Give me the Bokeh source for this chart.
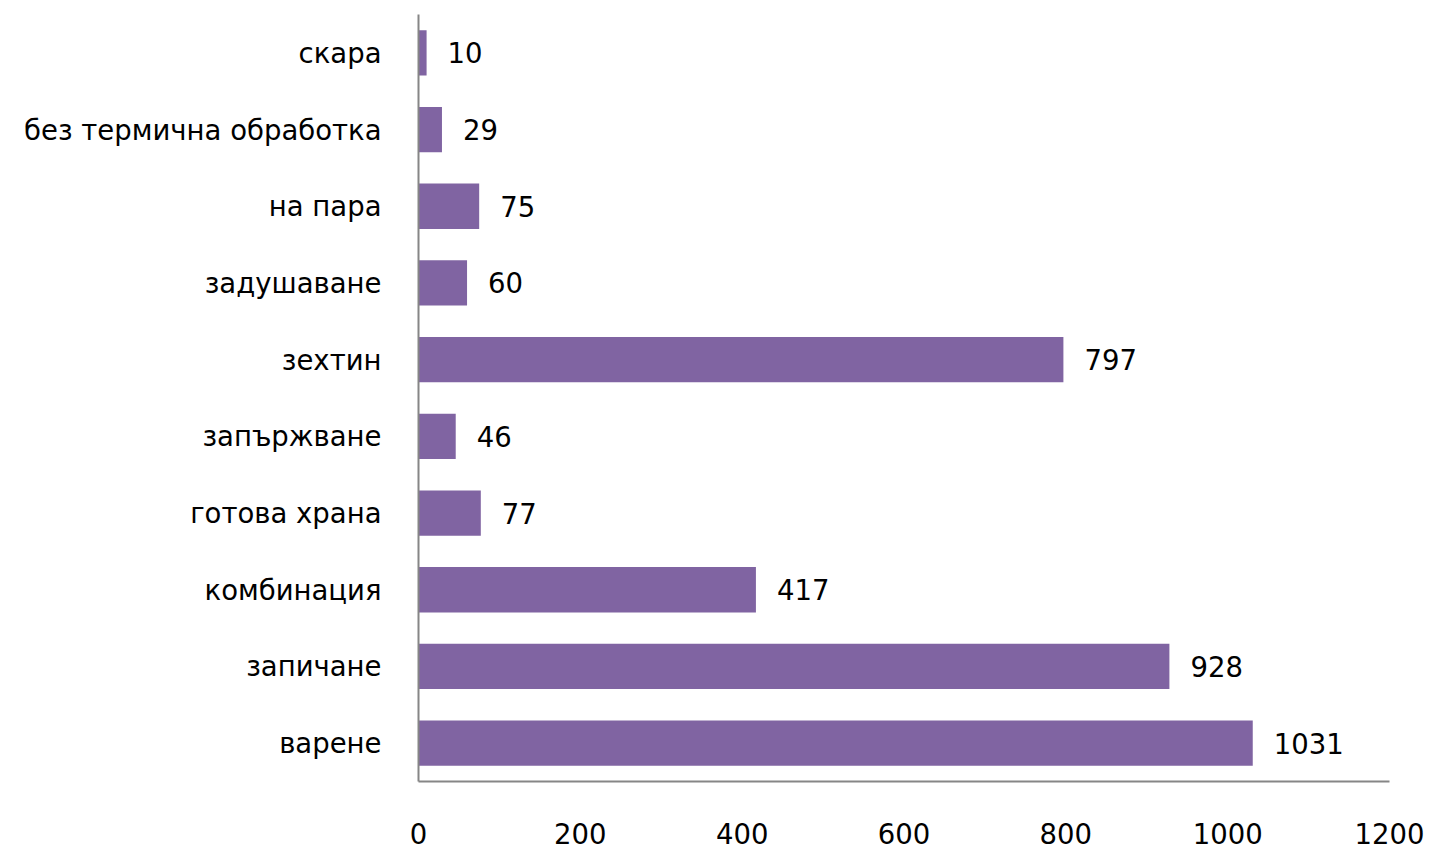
from bokeh.plotting import figure
from bokeh.models import FactorRange, Range1d, FixedTicker, ColumnDataSource
from bokeh.core.properties import value
from bokeh.embed import file_html
from bokeh.resources import INLINE

categories = ["варене", "запичане", "комбинация", "готова храна", "запържване",
              "зехтин", "задушаване", "на пара", "без термична обработка", "скара"]
counts = [1031, 928, 417, 77, 46, 797, 60, 75, 29, 10]
x_ticks = [0, 200, 400, 600, 800, 1000, 1200]

FONT = "DejaVu Sans"
FS = "27.5px"
src = ColumnDataSource(dict(cat=categories, val=counts, lab=[str(v) for v in counts]))

p = figure(width=1429, height=853, output_backend="svg", toolbar_location=None,
           y_range=FactorRange(factors=categories), x_range=Range1d(0, 1200),
           min_border_left=418, min_border_right=40, min_border_top=14, min_border_bottom=72)
p.hbar(y="cat", right="val", left=0, height=0.59, source=src,
       fill_color="#8064A2", line_color=None)
p.text(x="val", y="cat", text="lab", source=src, x_offset=21,
       text_baseline="middle", text_align="left", text_font=value(FONT),
       text_font_size=FS, text_color="#000000")

p.xaxis.ticker = FixedTicker(ticks=x_ticks)
for ax in (p.xaxis[0], p.yaxis[0]):
    ax.axis_line_color = "#868686"
    ax.axis_line_width = 2
    ax.major_tick_line_color = None
    ax.minor_tick_line_color = None
    ax.major_label_text_font = FONT
    ax.major_label_text_font_size = FS
    ax.major_label_text_color = "#000000"
p.xaxis.major_label_standoff = 35
p.yaxis.major_label_standoff = 31
p.xgrid.grid_line_color = None
p.ygrid.grid_line_color = None
p.outline_line_color = None

open("out.html", "w").write(file_html(p, INLINE))
